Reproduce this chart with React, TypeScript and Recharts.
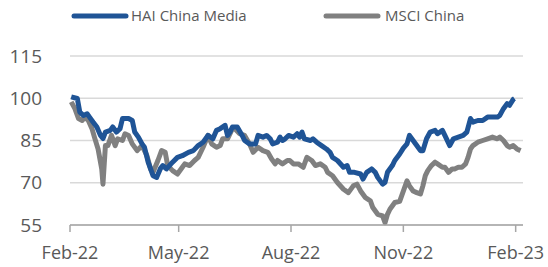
import { LineChart, Line, XAxis, YAxis, CartesianGrid } from "recharts";

// days since 1 Feb 2022
const haiDays = [
  1, 6, 8, 11, 14, 16, 19, 22, 25, 27, 29, 33, 35, 38, 41, 43, 48, 51, 53, 56,
  59, 61, 64, 68, 71, 74, 76, 79, 84, 88, 92, 97, 101, 105, 109, 113, 117, 120,
  123, 127, 129, 131, 133, 137, 141, 143, 147, 152, 154, 158, 161, 164, 166,
  170, 172, 174, 176, 179, 183, 186, 188, 190, 192, 197, 199, 202, 206, 210,
  213, 215, 219, 224, 227, 229, 233, 238, 240, 243, 247, 250, 252, 256, 258,
  260, 264, 266, 270, 273, 276, 278, 281, 284, 287, 289, 292, 295, 299, 301,
  305, 307, 311, 314, 318, 322, 325, 328, 330, 334, 338, 342, 346, 350, 352,
  355, 358, 360, 363, 364,
];
const haiValues = [
  100.5, 99.9, 95.1, 93.9, 94.5, 93.3, 91.5, 89.8, 86.8, 85.7, 88, 88.6, 89.8,
  88, 89.2, 92.8, 92.8, 92.1, 88, 86.2, 83.8, 82.6, 77.3, 72.5, 71.9, 75, 76.1,
  74.9, 77.3, 79, 79.6, 80.8, 81.4, 83.2, 84.4, 86.8, 85.6, 88.6, 89.2, 90.4,
  86.8, 88, 89.8, 89.8, 86.8, 85, 83.8, 83.8, 86.8, 86.2, 86.8, 85.6, 83.8,
  84.4, 86.2, 85, 85.5, 86.8, 86.2, 87.4, 86.2, 88, 85.6, 85, 85.6, 84.4, 83.2,
  82, 80.8, 79, 77.9, 75.5, 76.1, 73.7, 73.7, 73.1, 71.3, 73.7, 74.9, 73.7,
  71.9, 69.5, 70.1, 73.7, 76.1, 77.9, 80.2, 82.3, 83.8, 86.8, 85, 83.2, 81.4,
  81.4, 85.6, 88, 88.6, 87.4, 88.6, 86.8, 83.2, 85.6, 86.2, 86.8, 88, 92.8,
  91.5, 92.1, 92.1, 93.3, 93.3, 93.3, 93.9, 96.3, 98.1, 97.5, 99.6, 99.9,
];

const msciDays = [
  1, 4, 7, 10, 12, 15, 18, 20, 23, 26, 27, 29, 31, 34, 37, 39, 43, 45, 48, 51,
  55, 59, 63, 66, 68, 72, 75, 78, 80, 84, 88, 92, 94, 98, 102, 105, 109, 113,
  116, 120, 123, 125, 129, 133, 135, 139, 143, 147, 150, 154, 158, 162, 165,
  168, 170, 174, 178, 180, 183, 187, 191, 194, 198, 201, 205, 209, 211, 215,
  219, 224, 228, 232, 235, 238, 242, 246, 248, 252, 256, 258, 260, 262, 266,
  270, 273, 276, 278, 281, 284, 287, 289, 291, 293, 296, 299, 301, 305, 307,
  310, 313, 315, 318, 321, 324, 326, 328, 330, 334, 338, 342, 346, 350, 352,
  355, 358, 360, 363, 366, 369,
];
const msciValues = [
  98.7, 96.3, 92.8, 92.1, 93.3, 92.1, 89.2, 86.2, 82, 74.9, 69.5, 83.2, 83.2,
  86.8, 83.2, 85.6, 85, 87.4, 86.8, 83.8, 81.4, 83.2, 79.6, 74.9, 73.7, 77.9,
  81.4, 80.8, 76.1, 74.3, 73.1, 75.5, 76.7, 76.1, 77.9, 79, 82.6, 86.8, 83.8,
  82.6, 83.2, 85.6, 85.6, 89.2, 89.2, 87.4, 86.8, 83.8, 80.8, 82.6, 81.4, 80.8,
  78.5, 76.7, 77.9, 76.7, 77.9, 77.9, 76.7, 76.7, 75.5, 79, 77.9, 76.1, 76.7,
  75.5, 73.7, 72.5, 70.1, 67.7, 66.5, 68.9, 69.5, 67.1, 64.7, 63.6, 61.2, 58.8,
  58.2, 55.8, 58.8, 60.6, 63, 63.4, 67, 70.7, 68.9, 67.1, 66.5, 66, 68.9, 72.5,
  74.3, 76.1, 77.3, 76.7, 75.5, 75.5, 73.7, 74.9, 74.9, 75.5, 75.5, 76.7, 79,
  82, 83.2, 84.4, 85, 85.6, 86.2, 85.6, 86.2, 85, 83.2, 82.6, 83.2, 82, 81.4,
];

const tickDays = [0, 89, 181, 273, 365];
const tickLabels = ["Feb-22", "May-22", "Aug-22", "Nov-22", "Feb-23"];
const yTicks = [55, 70, 85, 100, 115];

const haiData = haiDays.map((d, i) => ({ day: d, value: haiValues[i] }));
const msciData = msciDays.map((d, i) => ({ day: d, value: msciValues[i] }));

const BLUE = "#1F5496";
const GRAY = "#808080";
const TEXT = "#595959";

function LegendItem({ color, label, left, textLeft }: { color: string; label: string; left: number; textLeft: number }) {
  return (
    <>
      <svg style={{ position: "absolute", left, top: 12 }} width={58} height={8}>
        <line x1={3} y1={4} x2={55} y2={4} stroke={color} strokeWidth={5} strokeLinecap="round" />
      </svg>
      <span
        style={{
          position: "absolute",
          left: textLeft,
          top: 5,
          fontFamily: "'Open Sans', sans-serif",
          fontSize: 15,
          color: TEXT,
          whiteSpace: "nowrap",
        }}
      >
        {label}
      </span>
    </>
  );
}

export default function App() {
  return (
    <div style={{ position: "fixed", left: 0, top: 0, width: 548, height: 267, background: "#fff" }}>
      <LegendItem color={BLUE} label="HAI China Media" left={71} textLeft={131} />
      <LegendItem color={GRAY} label="MSCI China" left={323} textLeft={385} />
      <LineChart
        width={548}
        height={267}
        margin={{ top: 56, right: 25, bottom: 12, left: 0 }}
        style={{ position: "absolute", left: 0, top: 0 }}
      >
        <CartesianGrid vertical={false} stroke="#D9D9D9" strokeWidth={1.5} />
        <XAxis
          type="number"
          dataKey="day"
          domain={[0, 371]}
          ticks={tickDays}
          tickFormatter={(v: number) => tickLabels[tickDays.indexOf(v)] ?? ""}
          height={30}
          stroke="#A6A6A6"
          strokeWidth={1.5}
          tickSize={7}
          tickMargin={14}
          tick={{ fill: TEXT, fontSize: 18, fontFamily: "'Open Sans', sans-serif" }}
          allowDuplicatedCategory={false}
        />
        <YAxis
          type="number"
          domain={[55, 115]}
          ticks={yTicks}
          width={70}
          axisLine={false}
          tickLine={false}
          tickSize={0}
          tickMargin={28}
          tick={{ fill: TEXT, fontSize: 19, fontFamily: "'Open Sans', sans-serif" }}
        />
        <Line
          data={msciData}
          dataKey="value"
          stroke={GRAY}
          strokeWidth={5}
          dot={false}
          strokeLinejoin="round"
          isAnimationActive={false}
        />
        <Line
          data={haiData}
          dataKey="value"
          stroke={BLUE}
          strokeWidth={5}
          dot={false}
          strokeLinejoin="round"
          isAnimationActive={false}
        />
      </LineChart>
    </div>
  );
}
